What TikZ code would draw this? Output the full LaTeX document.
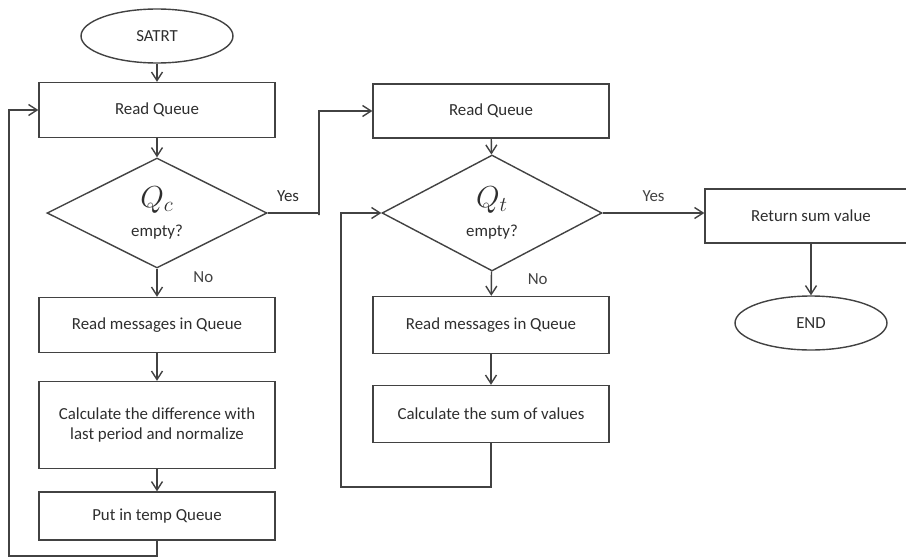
\documentclass[tikz,border=0pt]{standalone}
\usepackage{fontspec}
\setmainfont{Carlito}
\usepackage{tikz}
\usetikzlibrary{shapes.geometric, arrows.meta, positioning}
\definecolor{ink}{HTML}{424242}

\begin{document}
\begin{tikzpicture}[x=0.02cm, y=-0.02cm, >={Straight Barb[length=1.7mm, width=2.2mm]},
  line width=0.8pt, draw=ink, text=ink!70!black,
  every node/.style={font=\fontsize{9.6}{11.6}\selectfont},
  term/.style={ellipse, draw=ink, minimum width=3.04cm, minimum height=1.08cm, inner sep=0pt},
  proc/.style={rectangle, draw=ink, minimum width=4.72cm, minimum height=1.1cm, inner sep=2pt, align=center},
  test/.style={diamond, draw=ink, minimum width=4.4cm, minimum height=2.2cm, inner sep=0pt, align=center},
  flow/.style={->, ink},
  lbl/.style={font=\fontsize{9.6}{11.6}\selectfont}]
\useasboundingbox (0,0) rectangle (906,558);
% left column: Qc
\node[term] (start) at (157,36)  {SATRT};
\node[proc] (rq1)   at (157,110) {Read Queue};
\node[test] (dc)    at (157,213) {{\fontsize{17}{18}\selectfont$Q_c$}\\[5pt]empty?};
\node[proc] (rm1)   at (157,325) {Read messages in Queue};
\node[proc, minimum height=1.74cm] (cd) at (157,425) {Calculate the difference with\\last period and normalize};
\node[proc, minimum height=0.96cm] (pt) at (157,516) {Put in temp Queue};
% middle column: Qt
\node[proc, minimum height=1.08cm] (rq2) at (491,111) {Read Queue};
\node[test, minimum height=2.32cm] (dt)  at (492,213) {{\fontsize{17}{18}\selectfont$Q_t$}\\[5pt]empty?};
\node[proc, minimum height=1.14cm] (rm2) at (491,325) {Read messages in Queue};
\node[proc, minimum height=1.14cm] (cs)  at (491,414) {Calculate the sum of values};
% right column
\node[proc, minimum width=4.24cm, minimum height=1.08cm] (rs) at (811,216) {Return sum value};
\node[term] (fin) at (811,323) {END};
% loop corners
\coordinate (c1) at (157,556);
\coordinate (c2) at (9,556);
\coordinate (c3) at (319,215);
\coordinate (c4) at (491,487);
\coordinate (c5) at (341,487);
% connectors
\draw[flow] (start) -- (rq1);
\draw[flow] (rq1) -- (dc);
\draw[flow] (dc) -- (rm1) node[lbl, pos=0.3, right=17pt] {No};
\draw[flow] (rm1) -- (cd);
\draw[flow] (cd) -- (pt);
\draw[flow] (pt.south) -- (c1) -- (c2) |- (rq1.west);
\draw[flow] (dc.east) -| (c3) |- (rq2.west);
\node[lbl] (yes1) at (288,196) {Yes};
\draw[flow] (rq2) -- (dt);
\draw[flow] (dt) -- (rm2) node[lbl, pos=0.3, right=17pt] {No};
\draw[flow] (rm2) -- (cs);
\draw[flow] (cs.south) -- (c4) -- (c5) |- (dt.west);
\draw[flow] (dt.east) -- (dt.east -| rs.west) node[lbl, pos=0.5, above=3pt] {Yes};
\draw[flow] (rs.south -| fin) -- (fin);
\end{tikzpicture}
\end{document}
